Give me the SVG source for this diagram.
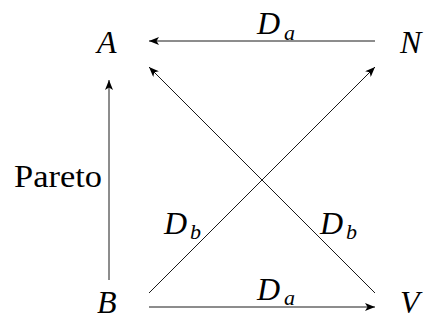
<svg xmlns="http://www.w3.org/2000/svg" width="425" height="320" viewBox="0 0 425 320">
<style>
text{font-family:'Liberation Serif','DejaVu Serif',serif;fill:#000}
.m{font-style:italic;font-size:32px}
.s{font-style:italic;font-size:22px}
.r{font-size:32px}
.e{stroke:#000;stroke-width:0.9;fill:none;marker-end:url(#ah)}
</style>
<defs>
<marker id="ah" viewBox="0 0 10 8" refX="10" refY="4" markerWidth="10" markerHeight="8" markerUnits="userSpaceOnUse" orient="auto">
<path d="M0,0 L10,4 L0,8 L2.5,4 Z" fill="#000"/>
</marker>
</defs>
<g id="nodeA"><text class="m" x="97" y="53">A</text></g>
<g id="nodeN"><text class="m" x="400" y="53">N</text></g>
<g id="nodeB"><text class="m" x="97" y="313">B</text></g>
<g id="nodeV"><text class="m" x="400" y="313">V</text></g>
<g id="connectors">
<line class="e" x1="375" y1="41" x2="149" y2="41"/>
<line class="e" x1="149" y1="307" x2="375" y2="307"/>
<line class="e" x1="109" y1="280" x2="109" y2="80"/>
<line class="e" x1="375" y1="293" x2="149" y2="67"/>
<line class="e" x1="149" y1="293" x2="375" y2="67"/>
<text class="m" x="257" y="34">D</text><text class="s" x="284" y="40">a</text>
<text class="m" x="257" y="300">D</text><text class="s" x="284" y="305">a</text>
<text class="m" x="164" y="234">D</text><text class="s" x="190" y="239">b</text>
<text class="m" x="320" y="234">D</text><text class="s" x="346" y="239">b</text>
<text class="r" x="14" y="187" textLength="88" lengthAdjust="spacingAndGlyphs">Pareto</text>
</g>
</svg>
